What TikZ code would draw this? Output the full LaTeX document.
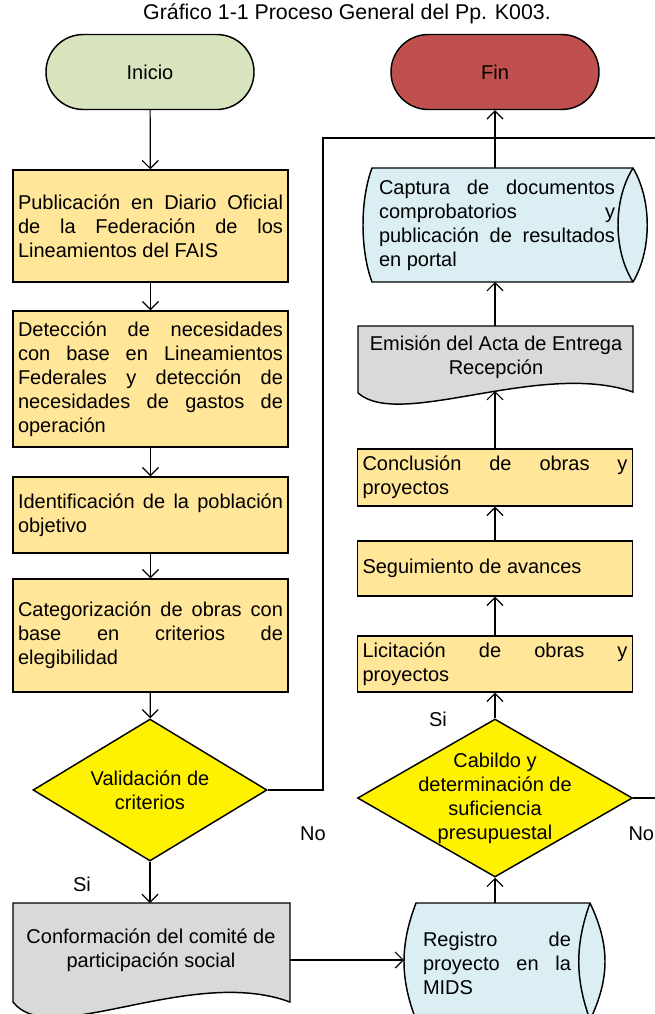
\documentclass[tikz,border=0pt]{standalone}
\usepackage{fontspec}
\setmainfont{Liberation Sans}
\usetikzlibrary{shapes.geometric,arrows.meta}
\definecolor{boxfill}{HTML}{FFE699}
\definecolor{startfill}{HTML}{D7E4BD}
\definecolor{endfill}{HTML}{C0504D}
\definecolor{docfill}{HTML}{D9D9D9}
\definecolor{datafill}{HTML}{DAEEF3}
\hyphenpenalty=10000
\exhyphenpenalty=10000
\tolerance=10000
\begin{document}
\begin{tikzpicture}[x=0.75pt,y=-0.75pt,
		font=\fontsize{15}{18}\selectfont,
		flow/.style={-{Straight Barb[length=6pt,width=12pt]},line width=0.9pt},
		outline/.style={draw,line width=1.1pt},
		terminal/.style={outline,rounded corners=28pt,minimum width=156pt,minimum height=56.25pt},
		stepbox/.style={outline,fill=boxfill,text width=198.75pt,inner xsep=3.75pt,inner ysep=0pt,align=justify},
		decision/.style={outline,fill=yellow,diamond,inner sep=0pt}]
		\clip (0,0) rectangle (655,1014);
		\node (titulo) at (347,14) {\fontsize{16}{19}\selectfont Gráfico 1-1 Proceso General del Pp. K003.};
		% columna izquierda
		\node[terminal,fill=startfill] (inicio) at (150,72) {Inicio};
		\node[stepbox,minimum height=84pt] (publica) at (150.5,226) {Publicación en Diario Oficial\linebreak de la Federación de los\linebreak Lineamientos del FAIS};
		\node[stepbox,minimum height=102pt] (deteccion) at (150.5,379) {Detección de necesidades\linebreak con base en Lineamientos\linebreak Federales y detección de\linebreak necesidades de gastos de\linebreak operación};
		\node[stepbox,minimum height=57pt] (identifica) at (150.5,515) {Identificación de la población\linebreak objetivo};
		\node[stepbox,minimum height=84.75pt] (categoriza) at (150.5,635.5) {Categorización de obras con\linebreak base en criterios de\linebreak elegibilidad};
		\node[decision,minimum width=175.5pt,minimum height=106.5pt] (valida) at (150,790) {};
		\node[align=center] (validatxt) at (valida) {Validación de\\criterios};
		\filldraw[outline,fill=docfill] (13,903) -- (290,903) -- (290,1002) .. controls (190,965) and (50,1050) .. (13,1002) -- cycle;
		\node[align=center] (comite) at (151,950) {Conformación del comité de\\participación social};
		\coordinate (comiteN) at (150,903);
		\coordinate (comiteE) at (290,960);
		% columna derecha
		\filldraw[outline,fill=datafill] (416,903) -- (590,903) .. controls (610,945) and (610,978) .. (590,1020) -- (416,1020) .. controls (400,978) and (400,945) .. (416,903) -- cycle;
		\draw[outline] (590,903) .. controls (575,945) and (575,978) .. (590,1020);
		\node[text width=111pt,align=justify] (registro) at (497,963) {Registro de\linebreak proyecto en la\linebreak MIDS};
		\coordinate (registroW) at (404,960);
		\coordinate (registroN) at (495,903);
		\node[decision,minimum width=206.25pt,minimum height=118.5pt] (cabildo) at (495,798) {};
		\node[align=center] (cabildotxt) at (cabildo) {Cabildo y\\determinación de\\suficiencia\\presupuestal};
		\node[stepbox,minimum height=42pt] (licita) at (495,664) {Licitación de obras y\linebreak proyectos};
		\node[stepbox,minimum height=41.25pt] (sigue) at (495,568.5) {Seguimiento de avances};
		\node[stepbox,minimum height=42.75pt] (concluye) at (495,477.5) {Conclusión de obras y\linebreak proyectos};
		\filldraw[outline,fill=docfill] (358,326) -- (633,326) -- (633,392) .. controls (540,360) and (400,430) .. (358,393) -- cycle;
		\node[align=center] (acta) at (496,357) {Emisión del Acta de Entrega\\Recepción};
		\coordinate (actaS) at (495,391);
		\coordinate (actaN) at (495,326);
		\filldraw[outline,fill=datafill] (372,168) -- (633,168) .. controls (652,200) and (652,250) .. (633,282) -- (372,282) .. controls (360,250) and (360,200) .. (372,168) -- cycle;
		\draw[outline] (633,168) .. controls (613,200) and (613,250) .. (633,282);
		\node[text width=177pt,align=justify] (captura) at (497,225) {Captura de documentos\linebreak comprobatorios y\linebreak publicación de resultados\linebreak en portal};
		\coordinate (capturaS) at (495,282);
		\coordinate (capturaN) at (495,168);
		\node[terminal,fill=endfill] (fin) at (495,72) {Fin};
		% conectores
		\draw[flow] (inicio) -- (publica);
		\draw[flow] (publica) -- (deteccion);
		\draw[flow] (deteccion) -- (identifica);
		\draw[flow] (identifica) -- (categoriza);
		\draw[flow] (categoriza) -- (valida);
		\draw[flow] (valida.south) -- (comiteN);
		\draw[flow] (comiteE) -- (registroW);
		\draw[flow] (registroN) -- (cabildo.south);
		\draw[flow] (cabildo.north) -- (licita);
		\draw[flow] (licita) -- (sigue);
		\draw[flow] (sigue) -- (concluye);
		\draw[flow] (concluye) -- (actaS);
		\draw[flow] (actaN) -- (capturaS);
		\draw[flow] (capturaN) -- (fin);
		\coordinate (vueltaA) at (323,138);
		\coordinate (vueltaB) at (655,138);
		\coordinate (salida) at (655,798);
		\draw[line width=0.9pt] (valida.east) -| (vueltaA) -- (vueltaB);
		\draw[line width=0.9pt] (cabildo.east) -- (salida);
		\node (si1) at (82,884) {Si};
		\node (no1) at (313,834) {No};
		\node (si2) at (438,719) {Si};
		\node[anchor=east,inner sep=0.5pt] (no2) at (655,834) {No};
	\end{tikzpicture}
\end{document}
